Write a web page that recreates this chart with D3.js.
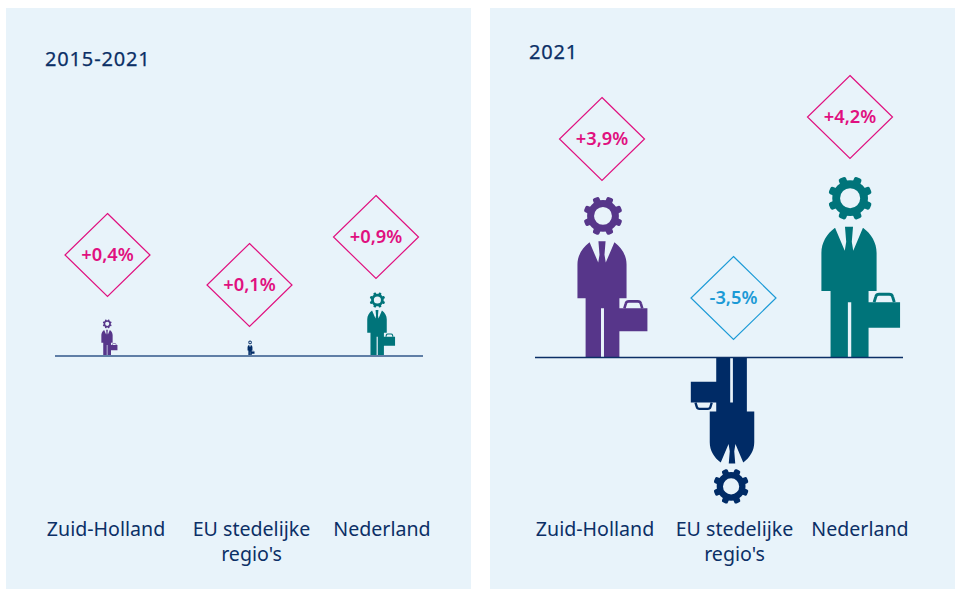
<!DOCTYPE html>
<html><head><meta charset="utf-8">
<script src="https://cdn.jsdelivr.net/npm/d3@7"></script>
<style>html,body{margin:0;padding:0;background:#fff}svg{display:block}text{font-family:"Noto Sans",Lato,sans-serif}</style>
</head><body><div id="c"></div>
<script>
const categories = ["Zuid-Holland", "EU stedelijke regio's", "Nederland"];
const periods = ["2015-2021", "2021"];
const valuesPeriod = [0.4, 0.1, 0.9];
const valuesYear = [3.9, -3.5, 4.2];
const labelsPeriod = ["+0,4%", "+0,1%", "+0,9%"];
const labelsYear = ["+3,9%", "-3,5%", "+4,2%"];
const seriesColors = ["#57368a", "#002b66", "#00747a"];

const pink = "#e0107f", blue = "#1b9ad6", navy = "#0b2f66", bg = "#e8f3fa";
const svg = d3.select("#c").append("svg").attr("width", 955).attr("height", 589);

const panels = [
  {title: periods[0], values: valuesPeriod, labels: labelsPeriod, px: 6, tx: 45, ty: 66,
   lineX: [55, 423], baseY: 356, lineW: 1.8, lineC: "#5f7ea6",
   x: [107, 250, 377], labelX: [106, 251.5, 382], labelY: [536, 536, 536],
   y: d3.scaleLinear().domain([0, 0.1, 0.4, 0.9]).range([0, 16, 37, 64]),
   dia: [[107.5, 255], [249.5, 285], [376, 237]]},
  {title: periods[1], values: valuesYear, labels: labelsYear, px: 490, tx: 529, ty: 59,
   lineX: [535, 903], baseY: 357.5, lineW: 1.3, lineC: navy,
   x: [602, 732, 849], labelX: [595, 734.5, 860], labelY: [536, 536, 536],
   y: d3.scaleLinear().domain([0, 3.5, 3.9, 4.2]).range([0, 146, 161, 181]),
   dia: [[602, 139], [733.5, 298], [850, 117]]}
];

const REF = 162;
const arc = d3.arc()({innerRadius: 9, outerRadius: 16, startAngle: 0, endAngle: 2 * Math.PI});
const bodyPath = "M-24.7,-60 L-24.7,-94 C-24.7,-103 -20,-111 -12.5,-116.5 L-3.8,-96 L-2.5,-104 L-3.6,-117.5 L3.6,-117.5 L2.5,-104 L3.8,-96 L12.5,-116.5 C20,-111 24.7,-103 24.7,-94 L24.7,-60 L17.5,-60 L17.5,-50 L45.7,-50 L45.7,-27 L17.5,-27 L17.5,0 L2,0 L2,-50 L-1,-50 L-1,0 L-16.5,0 L-16.5,-60 Z";

function person(g, color, h, flip) {
  const k = h / REF;
  const a = g.append("g").attr("transform", (flip ? "rotate(180) " : "") + `scale(${k})`).attr("fill", color);
  a.append("path").attr("d", bodyPath);
  a.append("path").attr("d", "M22.5,-50 L24,-55 Q24.5,-57 27,-57 L36,-57 Q38.5,-57 39,-55 L40.5,-50")
    .attr("fill", "none").attr("stroke", color).attr("stroke-width", 2.6);
  const gear = a.append("g").attr("transform", "translate(1,-143)");
  gear.append("path").attr("d", arc);
  d3.range(8).forEach(i => {
    gear.append("rect").attr("x", -3.5).attr("y", -19.8).attr("width", 7).attr("height", 7).attr("rx", 2)
      .attr("transform", `rotate(${22.5 + i * 45})`);
  });
}

panels.forEach(p => {
  const g = svg.append("g");
  g.append("rect").attr("x", p.px).attr("y", 8).attr("width", 465).attr("height", 581).attr("fill", bg);
  g.append("text").attr("x", p.tx).attr("y", p.ty).attr("fill", navy).attr("font-size", 20).attr("font-weight", 400)
    .attr("font-family", "Lato").attr("letter-spacing", 0.85).attr("stroke", navy).attr("stroke-width", 0.25).text(p.title);

  p.values.forEach((v, i) => {
    const h = p.y(Math.abs(v));
    person(g.append("g").attr("transform", `translate(${p.x[i]},${p.baseY + (v < 0 ? 0 : 0.5)})`), seriesColors[i], h, v < 0);
  });
  g.append("line").attr("x1", p.lineX[0]).attr("x2", p.lineX[1]).attr("y1", p.baseY).attr("y2", p.baseY)
    .attr("stroke", p.lineC).attr("stroke-width", p.lineW);

  p.labels.forEach((t, i) => {
    const [cx, cy] = p.dia[i], c = p.values[i] < 0 ? blue : pink;
    g.append("path").attr("d", `M${cx},${cy - 41.5} L${cx + 42.5},${cy} L${cx},${cy + 41.5} L${cx - 42.5},${cy} Z`)
      .attr("fill", "none").attr("stroke", c).attr("stroke-width", 1.2);
    g.append("text").attr("x", cx).attr("y", cy + 6).attr("text-anchor", "middle").attr("fill", c)
      .attr("font-size", 18.3).attr("font-weight", 600).text(t);
  });

  categories.forEach((c, i) => {
    const lines = c === "EU stedelijke regio's" ? ["EU stedelijke", "regio's"] : [c];
    lines.forEach((l, j) => {
      g.append("text").attr("x", p.labelX[i]).attr("y", p.labelY[i] + j * 25).attr("text-anchor", "middle")
        .attr("fill", navy).attr("font-size", 19.6).text(l);
    });
  });
});
</script></body></html>
